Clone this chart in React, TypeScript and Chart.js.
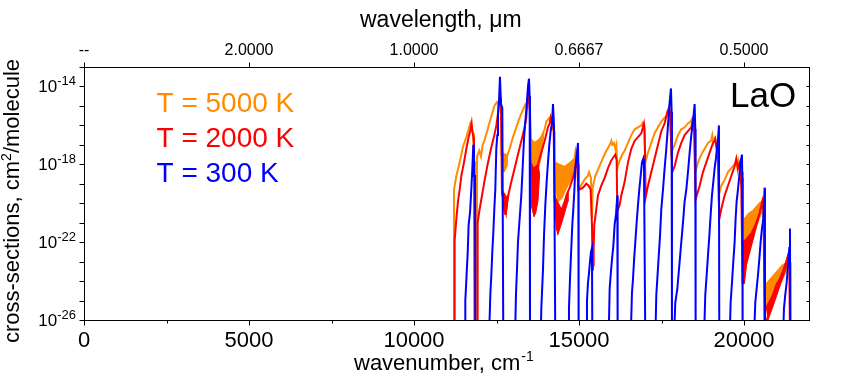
import React, { useEffect, useRef } from 'react';
import { Chart, registerables } from 'chart.js';

Chart.register(...registerables);

type P = [number, number]; // [wavenumber cm-1, log10(cross-section)]

const X_MIN = 0;
const X_MAX = 22000;
const Y_MIN = 1e-26;
const Y_MAX = 1e-13;

const bottomTickValues = [0, 5000, 10000, 15000, 20000];
const bottomMinorValues = [2500, 7500, 12500, 17500];
const topTickValues = [0, 5000, 10000, 15000, 20000];
const yDecadeExponents = [-26, -25, -24, -23, -22, -21, -20, -19, -18, -17, -16, -15, -14, -13];
const yLabelExponents = [-26, -22, -18, -14];

const legendLabels = ['T = 5000 K', 'T = 2000 K', 'T = 300 K'];
const seriesColors = ['#FF8C00', '#FF0000', '#0000FF'];
const moleculeLabel = 'LaO';

const orangeLine: P[] = [
  [11212, -27], [11212, -19.3], [11283, -18.6], [11384, -17.9], [11485, -17.1], [11586, -16.6], [11656, -16.2],
  [11707, -15.9], [11747, -16.1], [11788, -16.4], [11818, -17.9], [11868, -17.9], [11868, -27], [11909, -27],
  [11909, -17.6], [11980, -17.3], [12030, -17.6], [12081, -17.0], [12131, -16.8], [12232, -16.2], [12333, -15.6],
  [12434, -15.0], [12515, -14.8], [12545, -14.9], [12585, -14.7], [12636, -14.8], [12656, -17.5], [12696, -17.5],
  [12737, -17.9], [12777, -18.0], [12817, -17.6], [12898, -17.2], [12999, -16.6], [13100, -16.1], [13201, -15.6],
  [13302, -15.2], [13383, -14.9], [13444, -14.8], [13505, -14.9], [13535, -16.7], [13636, -16.9], [13757, -16.8],
  [13858, -16.6], [13959, -16.2], [14010, -15.8], [14060, -15.7], [14111, -15.6], [14161, -15.7], [14212, -16.2],
  [14252, -16.3], [14262, -17.9], [14363, -18.0], [14464, -18.1], [14565, -18.2], [14666, -18.1], [14767, -17.9],
  [14868, -17.7], [14898, -17.3], [14938, -17.6], [14979, -19.3], [15060, -19.1], [15161, -18.8], [15262, -18.6],
  [15302, -18.4], [15363, -18.7], [15393, -20.8], [15413, -19.2], [15494, -18.6], [15595, -18.2], [15696, -17.8],
  [15797, -17.4], [15898, -17.1], [15959, -16.9], [15979, -16.8], [16009, -17.0], [16060, -16.9], [16100, -17.2],
  [16131, -17.0], [16161, -18.2], [16211, -17.9], [16312, -17.5], [16383, -17.3], [16484, -16.9], [16585, -16.5],
  [16686, -16.2], [16787, -16.1], [16888, -16.0], [16918, -15.9], [16959, -16.2], [16969, -15.9], [17009, -17.9],
  [17090, -17.4], [17191, -16.9], [17292, -16.4], [17393, -16.1], [17494, -15.8], [17595, -15.6], [17696, -15.5],
  [17736, -15.1], [17767, -15.4], [17797, -17.4], [17898, -17.0], [17999, -16.5], [18100, -16.2], [18201, -16.1],
  [18302, -15.9], [18383, -15.8], [18413, -15.7], [18454, -16.2], [18504, -16.1], [18524, -18.4], [18605, -17.9],
  [18706, -17.5], [18807, -17.2], [18908, -16.9], [18999, -16.8], [19039, -16.5], [19070, -16.9], [19110, -16.7],
  [19160, -17.0], [19211, -17.7], [19231, -19.6], [19312, -19.1], [19413, -18.8], [19514, -18.4], [19615, -18.2],
  [19716, -18.0], [19767, -17.9], [19807, -18.3], [19838, -17.9], [19888, -18.4], [19948, -18.4], [19968, -20.9],
  [20069, -20.7], [20170, -20.5], [20271, -20.4], [20372, -20.2], [20473, -20.0], [20554, -19.9], [20574, -20.1],
  [20604, -21.3], [20625, -24.4], [20655, -24.2], [20756, -24.0], [20857, -23.8], [20958, -23.6], [21059, -23.4],
  [21160, -23.2], [21261, -23.1], [21342, -23.0], [21382, -22.9], [21412, -23.1], [21412, -27],
];

const redLine: P[] = [
  [11232, -27], [11232, -21.9], [11283, -20.8], [11333, -19.9], [11384, -19.3], [11434, -18.6], [11515, -17.9],
  [11586, -17.2], [11656, -16.6], [11717, -16.2], [11747, -15.9], [11768, -16.3], [11798, -16.6], [11818, -16.9],
  [11838, -27], [11929, -27], [11929, -21.0], [11980, -20.4], [12030, -19.9], [12081, -19.4], [12131, -18.9],
  [12232, -18.0], [12333, -17.2], [12434, -16.5], [12495, -16.0], [12545, -15.4], [12575, -14.8], [12616, -14.6],
  [12636, -15.0], [12666, -19.5], [12706, -19.7], [12757, -20.3], [12787, -20.5], [12817, -20.0], [12868, -19.5],
  [12949, -18.9], [13050, -18.2], [13151, -17.5], [13252, -16.8], [13353, -16.1], [13403, -15.6], [13434, -14.6],
  [13454, -14.4], [13485, -14.8], [13515, -15.2], [13535, -17.9], [13606, -18.2], [13687, -18.8], [13757, -18.0],
  [13858, -17.4], [13959, -16.8], [14060, -16.1], [14111, -15.9], [14141, -15.6], [14191, -15.9], [14232, -16.2],
  [14262, -19.9], [14363, -21.4], [14414, -21.0], [14515, -20.4], [14616, -19.6], [14717, -19.2], [14817, -18.7],
  [14888, -18.2], [14918, -17.6], [14948, -18.0], [14979, -19.3], [15020, -19.3], [15121, -19.2], [15222, -19.0],
  [15292, -19.1], [15353, -19.3], [15393, -21.1], [15414, -23.4], [15424, -21.6], [15434, -23.2], [15444, -22.3],
  [15464, -21.1], [15524, -20.3],
  [15575, -19.6], [15676, -19.1], [15777, -18.7], [15878, -18.2], [15979, -17.8], [16060, -17.6], [16100, -17.5],
  [16141, -17.8], [16161, -20.4], [16231, -20.1], [16282, -19.6], [16383, -18.9], [16484, -17.9], [16585, -17.2],
  [16686, -16.8], [16787, -16.6], [16888, -16.4], [16939, -16.1], [16969, -15.9], [16989, -16.2], [17019, -19.7],
  [17090, -19.1], [17191, -18.4], [17292, -17.7], [17393, -17.0], [17494, -16.3], [17595, -15.9], [17676, -15.3],
  [17726, -15.1], [17757, -15.3], [17827, -18.4], [17898, -18.1], [17999, -17.4], [18100, -16.9], [18201, -16.5],
  [18302, -16.3], [18403, -16.1], [18454, -15.7], [18484, -16.0], [18534, -19.8], [18656, -19.1], [18757, -18.4],
  [18858, -17.9], [18959, -17.4], [19060, -16.9], [19110, -16.8], [19130, -16.7], [19171, -17.2], [19211, -17.7],
  [19251, -20.8], [19312, -20.3], [19413, -19.6], [19514, -19.1], [19615, -18.6], [19716, -18.1], [19767, -17.7],
  [19817, -18.2], [19878, -17.9], [19918, -19.2], [19958, -24.1], [19999, -24.1], [20070, -23.0], [20171, -22.3],
  [20272, -21.7], [20373, -21.0], [20474, -20.5], [20554, -19.9], [20595, -20.5], [20625, -27], [20696, -27],
  [20696, -26.0], [20777, -25.4], [20878, -24.7], [20979, -24.2], [21080, -23.9], [21181, -23.5], [21282, -23.0],
  [21332, -22.7], [21372, -23.0], [21393, -23.7], [21393, -27],
];

const blueLine: P[] = [
  [11555, -27], [11555, -25.0], [11596, -23.6], [11626, -22.6], [11656, -21.1], [11697, -20.5], [11737, -19.3],
  [11768, -18.2], [11798, -17.0], [11818, -18.6], [11848, -18.6], [11858, -21.9], [11858, -27],
  [12272, -27], [12313, -24.7], [12343, -23.7], [12373, -22.5], [12404, -21.5], [12434, -20.3], [12464, -19.3],
  [12494, -17.2], [12525, -16.5], [12545, -15.5], [12575, -14.8], [12605, -13.5], [12636, -14.9], [12676, -15.1],
  [12706, -27],
  [13060, -27], [13090, -24.7], [13121, -23.4], [13151, -22.0], [13201, -20.8], [13252, -19.6], [13292, -18.2],
  [13333, -16.7], [13373, -15.8], [13414, -15.0], [13454, -14.0], [13484, -13.6], [13505, -14.5], [13515, -27],
  [13838, -27], [13858, -25.4], [13909, -23.4], [13939, -21.7], [13979, -20.1], [14020, -18.9], [14060, -17.9],
  [14100, -17.0], [14141, -16.3], [14181, -15.9], [14212, -14.9], [14242, -16.0], [14282, -27],
  [14676, -27], [14696, -25.4], [14727, -23.9], [14767, -22.3], [14797, -21.1], [14828, -20.3], [14858, -19.4],
  [14888, -18.2], [14929, -17.7], [14969, -16.9], [14979, -18.0], [14989, -27],
  [15222, -27], [15242, -25.0], [15272, -24.1], [15302, -23.6], [15333, -23.0], [15363, -22.5], [15393, -22.3],
  [15404, -27],
  [15898, -27], [15929, -24.4], [15959, -23.7], [15999, -22.9], [16040, -22.2], [16080, -21.1], [16120, -20.6],
  [16161, -19.6], [16171, -27],
  [16565, -27], [16605, -24.6], [16636, -23.9], [16666, -23.0], [16706, -22.0], [16747, -21.0], [16787, -20.1],
  [16827, -19.3], [16868, -18.6], [16908, -17.9], [16949, -17.7], [16969, -18.0], [17009, -27],
  [17312, -27], [17343, -24.7], [17373, -23.9], [17413, -22.8], [17454, -21.7], [17494, -20.3], [17545, -19.3],
  [17595, -18.2], [17646, -17.2], [17696, -16.0], [17747, -14.8], [17787, -14.1], [17807, -15.3], [17817, -27],
  [17878, -27], [17918, -25.1], [17979, -24.4], [18050, -23.0], [18100, -22.0], [18151, -21.0], [18201, -19.9],
  [18252, -19.3], [18302, -18.4], [18353, -17.4], [18403, -16.5], [18454, -15.8], [18504, -14.9], [18524, -16.2],
  [18534, -27],
  [18787, -27], [18827, -24.7], [18868, -23.7], [18908, -22.7], [18949, -21.7], [18989, -20.6], [19029, -19.6],
  [19070, -18.9], [19110, -18.2], [19150, -17.7], [19211, -16.7], [19241, -16.0], [19251, -27],
  [19565, -27], [19595, -25.1], [19635, -24.1], [19676, -23.0], [19716, -22.0], [19746, -20.8], [19777, -19.9],
  [19817, -19.3], [19857, -18.6], [19898, -17.9], [19938, -17.5], [19948, -18.7], [19958, -27],
  [20302, -27], [20342, -25.1], [20383, -24.4], [20423, -23.7], [20463, -22.9], [20504, -22.0], [20544, -21.3],
  [20585, -20.8], [20625, -19.2], [20635, -27],
  [21181, -27], [21211, -25.4], [21251, -24.7], [21292, -24.1], [21332, -23.2], [21372, -22.3], [21393, -21.3],
  [21403, -27],
];

// dense rotational-line regions (drawn as filled shapes)
const orangePatches: P[][] = [
  [[12656, -17.4], [12817, -17.5], [12817, -18.1], [12737, -18.4], [12666, -18.2]],
  [[13535, -16.7], [13656, -16.9], [13858, -16.6], [13939, -16.4], [13858, -17.6], [13757, -18.4], [13636, -18.2], [13535, -17.9]],
  [[14262, -17.9], [14565, -18.1], [14868, -17.7], [14928, -18.0], [14868, -18.4], [14666, -19.1], [14464, -19.8], [14363, -19.9], [14282, -19.3]],
  [[19968, -20.9], [20271, -20.4], [20554, -19.9], [20574, -20.3], [20423, -21.0], [20221, -21.7], [19999, -22.3], [19968, -22.0]],
  [[20655, -24.2], [21059, -23.4], [21382, -22.9], [21382, -23.2], [21231, -23.7], [21029, -24.4], [20827, -25.1], [20675, -25.4]],
];

const redPatches: P[][] = [
  [[12666, -19.3], [12817, -19.7], [12868, -19.5], [12817, -20.3], [12757, -20.6], [12696, -20.2]],
  [[13535, -17.9], [13606, -18.2], [13757, -18.0], [13808, -18.5], [13757, -19.9], [13687, -20.5], [13636, -20.7], [13565, -20.2]],
  [[14262, -19.6], [14464, -20.3], [14666, -19.4], [14666, -19.9], [14515, -20.8], [14363, -21.6], [14312, -21.3]],
  [[19968, -22.0], [20221, -21.5], [20423, -20.8], [20554, -19.9], [20474, -20.6], [20272, -21.9], [20070, -23.2], [19999, -24.1]],
  [[20675, -25.3], [21029, -24.2], [21332, -22.7], [21282, -23.3], [21080, -24.3], [20878, -25.3], [20726, -26.0]],
];

const FONT = "'Liberation Sans', Arial, Helvetica, sans-serif";

const toData = (pts: P[]) => pts.map(([x, e]) => ({ x, y: Math.pow(10, e) }));
const closed = (pts: P[]) => [...pts, pts[0]];

const decorPlugin = {
  id: 'decor',
  afterDraw(chart: any) {
    const ctx: CanvasRenderingContext2D = chart.ctx;
    const { left, right, top, bottom } = chart.chartArea;
    const xs = chart.scales.x;
    const ys = chart.scales.y;
    ctx.save();
    ctx.strokeStyle = '#000';
    ctx.fillStyle = '#000';
    ctx.lineWidth = 1;
    ctx.strokeRect(left + 0.5, top + 0.5, right - left - 1, bottom - top);
    const yb = bottom + 0.5;
    const yt = top + 0.5;
    const xl = left + 0.5;
    const xr = right - 0.5;
    ctx.beginPath();
    bottomTickValues.forEach((v) => {
      const x = Math.round(xs.getPixelForValue(v)) + 0.5;
      ctx.moveTo(x, yb); ctx.lineTo(x, yb + 5);
    });
    bottomMinorValues.forEach((v) => {
      const x = Math.round(xs.getPixelForValue(v)) + 0.5;
      ctx.moveTo(x, yb); ctx.lineTo(x, yb + 3);
    });
    topTickValues.forEach((v) => {
      const x = Math.round(xs.getPixelForValue(v)) + 0.5;
      ctx.moveTo(x, yt); ctx.lineTo(x, yt - 5);
    });
    yDecadeExponents.forEach((e) => {
      const y = Math.round(ys.getPixelForValue(Math.pow(10, e))) + 0.5;
      ctx.moveTo(xl, y); ctx.lineTo(xl - 5, y);
      ctx.moveTo(xr, y); ctx.lineTo(xr - 3, y);
    });
    ctx.stroke();

    ctx.textBaseline = 'alphabetic';
    ctx.textAlign = 'center';
    ctx.font = `22px ${FONT}`;
    bottomTickValues.forEach((v) => {
      ctx.fillText(String(v), xs.getPixelForValue(v), 346.5);
    });
    ctx.font = `16px ${FONT}`;
    topTickValues.forEach((v) => {
      const label = v === 0 ? '--' : (10000 / v).toFixed(4);
      ctx.fillText(label, xs.getPixelForValue(v), 55);
    });
    ctx.textAlign = 'left';
    yLabelExponents.forEach((e) => {
      const y = ys.getPixelForValue(Math.pow(10, e));
      ctx.font = `17px ${FONT}`;
      const bw = ctx.measureText('10').width;
      ctx.font = `13px ${FONT}`;
      const sup = String(e);
      const sw = ctx.measureText(sup).width;
      const x0 = 76 - bw - sw;
      ctx.font = `17px ${FONT}`;
      ctx.fillText('10', x0, y + 6);
      ctx.font = `13px ${FONT}`;
      ctx.fillText(sup, x0 + bw, y - 1.5);
    });

    ctx.font = `23px ${FONT}`;
    ctx.fillText('wavelength, \u03bcm', 360, 27);
    ctx.font = `22px ${FONT}`;
    const bt = 'wavenumber, cm';
    ctx.fillText(bt, 354, 369.5);
    const btw = ctx.measureText(bt).width;
    ctx.font = `14px ${FONT}`;
    ctx.fillText('-1', 354 + btw + 1, 361);

    ctx.save();
    ctx.translate(19, 201);
    ctx.rotate(-Math.PI / 2);
    const p1 = 'cross-sections, cm';
    const p2 = '2';
    const p3 = '/molecule';
    ctx.font = `22px ${FONT}`;
    const w1 = ctx.measureText(p1).width;
    const w3 = ctx.measureText(p3).width;
    ctx.font = `14px ${FONT}`;
    const w2 = ctx.measureText(p2).width;
    let sx = -(w1 + w2 + w3) / 2;
    ctx.font = `22px ${FONT}`;
    ctx.fillText(p1, sx, 0);
    sx += w1;
    ctx.font = `14px ${FONT}`;
    ctx.fillText(p2, sx, -8);
    sx += w2;
    ctx.font = `22px ${FONT}`;
    ctx.fillText(p3, sx, 0);
    ctx.restore();

    ctx.font = `28px ${FONT}`;
    legendLabels.forEach((lab, i) => {
      ctx.fillStyle = seriesColors[i];
      ctx.fillText(lab, 156.5, 111.5 + i * 35);
    });
    ctx.fillStyle = '#000';
    ctx.font = `35px ${FONT}`;
    ctx.fillText(moleculeLabel, 730, 107);
    ctx.restore();
  },
};

export default function App() {
  const ref = useRef<HTMLCanvasElement | null>(null);
  useEffect(() => {
    document.body.style.margin = '0';
    const canvas = ref.current;
    if (!canvas) return;
    const lineDs = (pts: P[], color: string, order: number) => ({
      data: toData(pts),
      borderColor: color,
      backgroundColor: color,
      borderWidth: 2,
      pointRadius: 0,
      tension: 0,
      fill: false,
      order,
      clip: 0,
    });
    const patchDs = (pts: P[], color: string, order: number) => ({
      data: toData(closed(pts)),
      borderColor: color,
      backgroundColor: color,
      borderWidth: 1,
      pointRadius: 0,
      tension: 0,
      fill: 'shape',
      order,
      clip: 0,
    });
    const datasets: any[] = [
      lineDs(blueLine, seriesColors[2], 0),
      lineDs(redLine, seriesColors[1], 1),
      ...redPatches.map((p) => patchDs(p, seriesColors[1], 1)),
      lineDs(orangeLine, seriesColors[0], 2),
      ...orangePatches.map((p) => patchDs(p, seriesColors[0], 2)),
    ];
    const hidden = { display: false };
    const chart = new Chart(canvas, {
      type: 'line',
      data: { datasets },
      options: {
        responsive: false,
        animation: false,
        devicePixelRatio: 1,
        layout: { padding: { left: 0, right: 40, top: 0, bottom: 0 } },
        plugins: { legend: hidden, tooltip: { enabled: false }, title: hidden },
        elements: { point: { radius: 0 } },
        scales: {
          x: {
            type: 'linear', position: 'bottom', min: X_MIN, max: X_MAX,
            ticks: hidden, grid: hidden, border: hidden,
            afterFit: (s: any) => { s.height = 57; },
          },
          x2: {
            type: 'linear', position: 'top', min: X_MIN, max: X_MAX,
            ticks: hidden, grid: hidden, border: hidden,
            afterFit: (s: any) => { s.height = 67; },
          },
          y: {
            type: 'logarithmic', position: 'left', min: Y_MIN, max: Y_MAX,
            ticks: hidden, grid: hidden, border: hidden,
            afterFit: (s: any) => { s.width = 84; },
          },
        },
      } as any,
      plugins: [decorPlugin],
    });
    return () => chart.destroy();
  }, []);
  return (
    <div style={{ position: 'absolute', left: 0, top: 0, width: 850, height: 377, background: '#fff' }}>
      <canvas ref={ref} width={850} height={377} style={{ display: 'block', width: 850, height: 377 }} />
    </div>
  );
}
